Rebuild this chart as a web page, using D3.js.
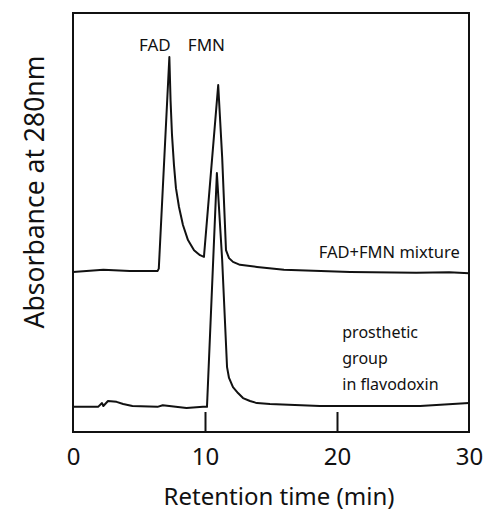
<!DOCTYPE html>
<html lang="en">
<head>
    <meta charset="UTF-8">
    <script type="text/javascript" src="https://d3js.org/d3.v7.min.js"></script>
    <title>Chromatogram</title>
    <style>
        body { margin: 0; background: #fff; }
        text { font-family: "Noto Sans", "Open Sans", sans-serif; fill: #111; }
    </style>
</head>
<body>
    <svg id="plot"></svg>
    <script type="text/javascript">
    // retention time (min) and absorbance (arbitrary units, 0-100 of the frame)
    const mixTime = [0, 2.3, 4.3, 6.4, 6.5, 7.3, 7.39, 7.5, 7.65, 7.8, 8.03, 8.33, 8.71, 9.17, 9.62, 9.92,
                     11.0, 11.3, 11.59, 11.82, 12.12, 12.65, 13.94, 15.98, 21, 26, 28.5, 30];
    const mixAbs  = [38.2, 38.7, 38.4, 38.4, 39, 89.5, 79.2, 70.9, 63.7, 58.2, 53.7, 49.4, 45.8, 43.4, 42.2, 41.8,
                     82.8, 65.6, 43.4, 41.5, 40.6, 39.9, 39.4, 38.7, 38.2, 38.0, 38.1, 37.9];

    const flavTime = [0, 1.9, 2.2, 2.3, 2.65, 3.3, 3.8, 4.5, 6.4, 6.8, 8.6, 9.85, 10.15, 10.9, 11.3,
                      11.67, 11.82, 12.12, 12.5, 12.88, 13.41, 13.94, 14.92, 18.7, 26.3, 30];
    const flavAbs  = [6.0, 6.0, 6.9, 6.2, 7.4, 7.2, 6.7, 6.2, 6.0, 6.4, 5.7, 6.0, 6.0, 61.8, 41.1,
                      15.5, 12.9, 10.7, 9.3, 8.1, 7.4, 6.9, 6.7, 6.2, 6.2, 6.9];

    const xTicks = [0, 10, 20, 30];
    const peakLabels = ["FAD", "FMN"];
    const peakTimes = [5.0, 8.7];
    const flavLabel = ["prosthetic", "group", "in flavodoxin"];

    const width = 484;
    const height = 511;
    const margin = {"top": 13, "bottom": 79, "left": 73, "right": 15};

    const svg = d3.select("#plot").attr("width", width).attr("height", height);

    const x = d3.scaleLinear()
        .domain([0, 30])
        .range([margin.left, width - margin.right]);
    const y = d3.scaleLinear()
        .domain([0, 100])
        .range([height - margin.bottom, margin.top]);

    const line = d3.line()
        .x(d => x(d[0]))
        .y(d => y(d[1]));

    // frame
    svg.append("rect")
        .attr("x", x(0)).attr("y", y(100))
        .attr("width", x(30) - x(0)).attr("height", y(0) - y(100))
        .attr("fill", "none").attr("stroke", "#111").attr("stroke-width", 2);

    // x axis, ticks pointing into the plot
    const x_axis = d3.axisBottom(x).tickValues(xTicks).tickSizeInner(-20).tickSizeOuter(0).tickPadding(16);
    svg.append("g")
        .attr("transform", `translate(0, ${y(0)})`)
        .call(x_axis)
        .call(g => g.select(".domain").remove())
        .call(g => g.selectAll(".tick line")
            .attr("stroke", "#111").attr("stroke-width", 2)
            .attr("display", d => (d === 0 || d === 30) ? "none" : null))
        .call(g => g.selectAll(".tick text")
            .attr("font-size", 24).attr("font-family", "Noto Sans").attr("fill", "#111"));

    // traces
    const mix = d3.zip(mixTime, mixAbs);
    const flav = d3.zip(flavTime, flavAbs);
    [mix, flav].forEach(s => {
        svg.append("path").attr("d", line(s))
            .attr("fill", "none").attr("stroke", "#111")
            .attr("stroke-width", 2).attr("stroke-linejoin", "round");
    });

    // labels
    svg.append("text")
        .attr("x", (x(0) + x(30)) / 2 + 8).attr("y", 505)
        .attr("text-anchor", "middle").attr("font-size", 24)
        .text("Retention time (min)");

    svg.append("text")
        .attr("transform", "translate(44, 192) rotate(-90)")
        .attr("text-anchor", "middle").attr("font-size", 26.5)
        .text("Absorbance at 280nm");

    peakLabels.forEach((t, i) => {
        svg.append("text")
            .attr("x", x(peakTimes[i])).attr("y", 51)
            .attr("font-size", 17)
            .text(t);
    });

    svg.append("text")
        .attr("x", x(29.3)).attr("y", 258)
        .attr("text-anchor", "end").attr("font-size", 16.5)
        .text("FAD+FMN mixture");

    flavLabel.forEach((t, i) => {
        svg.append("text")
            .attr("x", x(20.4)).attr("y", 338 + i * 26)
            .attr("font-size", 16)
            .text(t);
    });
    </script>
</body>
</html>
